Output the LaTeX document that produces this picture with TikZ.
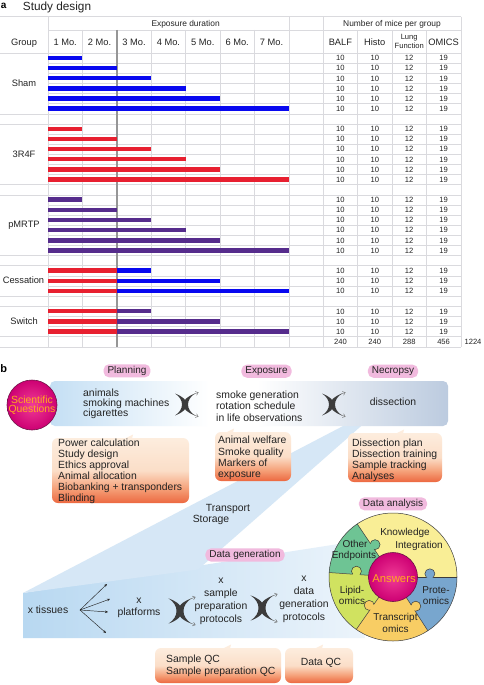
\documentclass[tikz,border=0pt]{standalone}
\usepackage{fontspec}
\setmainfont{Liberation Sans}
\usetikzlibrary{arrows.meta}
\definecolor{gridc}{RGB}{218,218,222}
\definecolor{twoc}{RGB}{150,150,150}
\definecolor{barblue}{RGB}{8,8,240}
\definecolor{barred}{RGB}{232,32,48}
\definecolor{barpurple}{RGB}{86,44,140}
\definecolor{txt}{RGB}{35,35,35}
\definecolor{pill}{RGB}{241,186,222}
\definecolor{bandL}{RGB}{196,223,244}
\definecolor{bandR}{RGB}{188,203,223}
\definecolor{peachT}{RGB}{253,237,222}
\definecolor{peach}{RGB}{251,222,200}
\definecolor{oM}{RGB}{245,160,120}
\definecolor{oB}{RGB}{236,104,64}
\definecolor{lowL}{RGB}{184,216,241}
\definecolor{lowR}{RGB}{236,244,251}
\definecolor{diagc}{RGB}{214,231,246}
\definecolor{magA}{RGB}{240,60,150}
\definecolor{magB}{RGB}{205,0,115}
\definecolor{magD}{RGB}{110,20,70}
\definecolor{ansc}{RGB}{255,170,30}
\definecolor{kic}{RGB}{249,238,150}
\definecolor{oec}{RGB}{110,196,148}
\definecolor{lic}{RGB}{208,226,96}
\definecolor{trc}{RGB}{248,205,100}
\definecolor{prc}{RGB}{120,166,206}
\definecolor{crossc}{RGB}{60,60,60}
\definecolor{crossl}{RGB}{110,110,110}
\definecolor{ringc}{RGB}{60,60,60}
\pgfdeclarehorizontalshading{upband}{100bp}{color(0bp)=(bandL); color(25bp)=(bandL); color(45bp)=(white); color(51bp)=(white); color(75bp)=(bandR); color(100bp)=(bandR)}
\pgfdeclareverticalshading{orangebox}{100bp}{color(0bp)=(oB); color(25bp)=(oB); color(36bp)=(oM); color(50bp)=(peach); color(75bp)=(peachT); color(100bp)=(peachT)}
\tikzset{xcross/.pic={
  \fill[crossc] (-10,-11) .. controls (6,-5) and (6,5) .. (-10,11) .. controls (-0.7,5) and (-0.7,-5) .. cycle;
  \fill[crossc] (10,-11) .. controls (-6,-5) and (-6,5) .. (10,11) .. controls (0.7,5) and (0.7,-5) .. cycle;
  \draw[crossl, line width=0.4pt, -{Straight Barb[length=2.5pt,width=4pt]}] (9,-10.4) -- (13.5,-12.2);
  \draw[crossl, line width=0.4pt, -{Straight Barb[length=2.5pt,width=4pt]}] (9,10.4) -- (13.5,12.2);
}}
\begin{document}
\begin{tikzpicture}[x=1pt,y=-1pt,
  gridl/.style={draw=gridc, line width=0.5pt},
  twol/.style={draw=twoc, line width=1.4pt},
  tabtxt/.style={font=\fontsize{9.3}{10}\selectfont, text=txt, inner sep=0pt, text height=6.7pt, text depth=0pt},
  spantxt/.style={font=\fontsize{8.4}{9}\selectfont, text=txt, inner sep=0pt, text height=6pt, text depth=0pt},
  numtxt/.style={font=\fontsize{7.6}{8}\selectfont, text=txt, inner sep=0pt, text height=5.4pt, text depth=0pt},
  lungtxt/.style={font=\fontsize{7.6}{8.8}\selectfont, text=txt, inner sep=0pt, align=center},
  btxt/.style={font=\fontsize{10.4}{11}\selectfont, text=txt, inner sep=0pt, align=left},
  ctxt/.style={font=\fontsize{10.4}{13}\selectfont, text=txt, inner sep=0pt, align=center},
  pillst/.style={fill=pill, rounded corners=5.5pt, inner xsep=4pt, inner ysep=2pt, font=\fontsize{10}{11}\selectfont, text=txt, text height=7.3pt, text depth=1.8pt},
  oboxst/.style={shade, shading=orangebox, rounded corners=6pt},
  ringline/.style={draw=ringc, line width=0.5pt},
  ringtxt/.style={font=\fontsize{10}{11}\selectfont, text=txt, inner sep=0pt, align=center},
  fanarr/.style={draw=txt, line width=0.45pt, -{Stealth[length=3pt,width=2.6pt]}},
  magball/.style={circle, inner sep=0pt, minimum size=50pt, shade, inner color=magA, outer color=magB, draw=magD, line width=0.6pt}
]
\useasboundingbox (0,0) rectangle (484,685);
\fill[white] (0,0) rectangle (484,685);
\def\cw{34.4}
\def\rh{10.13}
% ---------- panel a ----------
\node[font=\bfseries\fontsize{10}{12}\selectfont, anchor=base west, inner sep=0pt] (lbla) at (0.6,8.6) {a};
\node[font=\fontsize{11.8}{13}\selectfont, anchor=base west, inner sep=0pt, text=txt] (title) at (22.7,10.2) {Study design};
% grid
\foreach \r in {0,...,29} \draw[gridl] (48,{53+\r*\rh}) -- (460.8,{53+\r*\rh});
\draw[gridl] (0,16.7) -- (460.8,16.7);
\draw[gridl] (48,30) -- (460.8,30);
\draw[gridl] (0,53) -- (48,53);
\foreach \r in {6,7,13,14,20,21,24,25,28,29} \draw[gridl] (0,{53+\r*\rh}) -- (48,{53+\r*\rh});
\foreach \k in {0,7,8,12} \draw[gridl] ({48+\k*\cw},16.7) -- ({48+\k*\cw},{53+29*\rh});
\foreach \k in {1,3,4,5,6,9,10,11} \draw[gridl] ({48+\k*\cw},30) -- ({48+\k*\cw},{53+29*\rh});
\draw[twol] ({48+2*\cw},30) -- ({48+2*\cw},{53+29*\rh});
% bars
\foreach \r/\m in {0/1,1/2,2/3,3/4,4/5,5/7}
  \fill[barblue] (48,{53+(\r+0.5)*\rh-2.4}) rectangle ({48+\m*\cw},{53+(\r+0.5)*\rh+2.1});
\foreach \r/\m in {7/1,8/2,9/3,10/4,11/5,12/7}
  \fill[barred] (48,{53+(\r+0.5)*\rh-2.4}) rectangle ({48+\m*\cw},{53+(\r+0.5)*\rh+2.1});
\foreach \r/\m in {14/1,15/2,16/3,17/4,18/5,19/7}
  \fill[barpurple] (48,{53+(\r+0.5)*\rh-2.4}) rectangle ({48+\m*\cw},{53+(\r+0.5)*\rh+2.1});
\foreach \r/\m in {21/3,22/5,23/7}{
  \fill[barred] (48,{53+(\r+0.5)*\rh-2.4}) rectangle ({48+2*\cw},{53+(\r+0.5)*\rh+2.1});
  \fill[barblue] ({48+2*\cw},{53+(\r+0.5)*\rh-2.4}) rectangle ({48+\m*\cw},{53+(\r+0.5)*\rh+2.1});
}
\foreach \r/\m in {25/3,26/5,27/7}{
  \fill[barred] (48,{53+(\r+0.5)*\rh-2.4}) rectangle ({48+2*\cw},{53+(\r+0.5)*\rh+2.1});
  \fill[barpurple] ({48+2*\cw},{53+(\r+0.5)*\rh-2.4}) rectangle ({48+\m*\cw},{53+(\r+0.5)*\rh+2.1});
}
% headers
\node[spantxt] (hexp) at ({48+4*\cw},23.4) {Exposure duration};
\node[spantxt] (hmice) at ({48+10*\cw},23.4) {Number of mice per group};
\node[tabtxt] (hgroup) at (24,42.3) {Group};
\foreach \k in {1,...,7} \node[tabtxt] (hm\k) at ({48+(\k-0.5)*\cw},42.3) {\k{} Mo.};
\node[tabtxt] (hbalf) at ({48+8.5*\cw},42.3) {BALF};
\node[tabtxt] (hhisto) at ({48+9.5*\cw},42.3) {Histo};
\node[lungtxt] (hlung) at ({48+10.5*\cw},41.2) {Lung\\Function};
\node[tabtxt] (homics) at ({48+11.5*\cw},42.3) {OMICS};
% group labels
\node[tabtxt] (gsham) at (24,{53+3*\rh-0.6}) {Sham};
\node[tabtxt] (g3r4f) at (24,{53+10*\rh-0.6}) {3R4F};
\node[tabtxt] (gpm) at (24,{53+17*\rh-0.6}) {pMRTP};
\node[tabtxt] (gcess) at (23.5,{53+22.5*\rh-0.6}) {Cessation};
\node[tabtxt] (gsw) at (24,{53+26.5*\rh-0.6}) {Switch};
% numbers
\foreach \r in {0,1,2,3,4,5,7,8,9,10,11,12,14,15,16,17,18,19,21,22,23,25,26,27}{
  \foreach \k/\v in {8/10,9/10,10/12,11/19}
    \node[numtxt] (n\r-\k) at ({48+(\k+0.5)*\cw},{53+(\r+0.5)*\rh}) {\v};
}
\foreach \k/\v in {8/240,9/240,10/288,11/456}
  \node[numtxt] (tot\k) at ({48+(\k+0.5)*\cw},{53+28.5*\rh}) {\v};
\node[numtxt] (totall) at (473,{53+28.5*\rh}) {1224};
% ---------- panel b ----------
\node[font=\bfseries\fontsize{11}{12}\selectfont, anchor=base west, inner sep=0pt] (lblb) at (0.3,372) {b};
% bands
\shade[left color=lowL, right color=lowR] (23,593) -- (345,543) -- (365,638) -- (23,638) -- cycle;
\fill[diagc] (354.6,420) -- (368,420) -- (198,569.5) -- (23,593) -- cycle;
\shade[shading=upband, rounded corners=5pt] (50,381) rectangle (448,426);
% pills
\node[pillst] (plan) at (127,370.8) {Planning};
\node[pillst] (expo) at (266.5,371.2) {Exposure};
\node[pillst] (necr) at (393,371.2) {Necropsy};
\node[pillst] (dgenp) at (245,555) {Data generation};
\node[pillst] (danp) at (393,503.8) {Data analysis};
% scientific questions
\node[magball] (sq) at (32,405) {};
\node[font=\fontsize{10.4}{9.2}\selectfont, text=ansc, align=center, inner sep=0pt] (sqt) at (32,405.5) {Scientific\\Questions};
% upper band texts
\node[btxt, font=\fontsize{10.4}{10}\selectfont, anchor=west] (inputs) at (83,404.3) {animals\\smoking machines\\cigarettes};
\node[btxt, font=\fontsize{10.4}{11.6}\selectfont, anchor=west] (smoke) at (216,406) {smoke generation\\rotation schedule\\in life observations};
\node[btxt] (diss) at (393,402) {dissection};
\pic at (185,404.5) {xcross};
\pic at (332,404.5) {xcross};
% orange boxes
\shade[oboxst] (52,438) rectangle (189,503);
\fill[peachT] (125,438.6) -- (132,438.6) -- (133,434.5) -- cycle;
\shade[oboxst] (215,432) rectangle (291,481);
\fill[peachT] (226,432.6) -- (233,432.6) -- (234,428.5) -- cycle;
\shade[oboxst] (348,433) rectangle (442,482);
\fill[peachT] (396,433.6) -- (403,433.6) -- (404,429.5) -- cycle;
\shade[oboxst] (155,648) rectangle (281,683);
\fill[peachT] (223,648.6) -- (230,648.6) -- (231,644.5) -- cycle;
\shade[oboxst] (285,648) rectangle (353,683);
\fill[peachT] (315,648.6) -- (322,648.6) -- (323,644.5) -- cycle;
\node[btxt, anchor=west] (box1t) at (58,471) {Power calculation\\Study design\\Ethics approval\\Animal allocation\\Biobanking + transponders\\Blinding};
\node[btxt, font=\fontsize{10.4}{11.2}\selectfont, anchor=west] (box2t) at (218,458) {Animal welfare\\Smoke quality\\Markers of\\exposure};
\node[btxt, anchor=west] (box3t) at (352,460) {Dissection plan\\Dissection training\\Sample tracking\\Analyses};
\node[btxt, font=\fontsize{10.4}{11.7}\selectfont, anchor=west] (box4t) at (166,665.5) {Sample QC\\Sample preparation QC};
\node[btxt] (box5t) at (321,663) {Data QC};
% transport
\node[btxt] (trans) at (228,509) {Transport};
\node[btxt] (stor) at (211,519.8) {Storage};
% lower band
\node[btxt] (tis) at (48,610) {x tissues};
\coordinate (fan) at (80,610);
\coordinate (f1) at (107,584);
\coordinate (f2) at (110,599);
\coordinate (f3) at (108,612);
\coordinate (f4) at (106,633);
\foreach \f in {f1,f2,f3,f4} \draw[fanarr] (fan) -- (\f);
\node[ctxt, font=\fontsize{10.4}{12.3}\selectfont] (plat) at (139,607.5) {x\\platforms};
\pic[scale=1.15] at (180,611) {xcross};
\node[ctxt] (samp) at (221,601) {x\\sample\\preparation\\protocols};
\pic[scale=1.15] at (262,608) {xcross};
\node[ctxt] (dgen) at (304,599) {x\\data\\generation\\protocols};
% ring
\begin{scope}[shift={(393,577)}, yscale=-1]
  \fill[kic] (0,0) -- (0:64) arc[start angle=0, end angle=124, radius=64] -- cycle;
  \fill[oec] (0,0) -- (124:64) arc[start angle=124, end angle=176, radius=64] -- cycle;
  \fill[lic] (0,0) -- (176:64) arc[start angle=176, end angle=235, radius=64] -- cycle;
  \fill[trc] (0,0) -- (235:64) arc[start angle=235, end angle=303, radius=64] -- cycle;
  \fill[prc] (0,0) -- (303:64) arc[start angle=303, end angle=360, radius=64] -- cycle;
  \foreach \a in {0,124,176,235,303} \draw[ringline] (\a:24) -- (\a:64);
  \foreach \ang/\col/\s/\e in {119/oec/0/124, 171/lic/124/176, 230/trc/176/235, 308/trc/303/360, 5/prc/0/124}{
    \fill[\col] (\ang:37) circle (5);
    \begin{scope}
      \clip (0,0) -- (\s:70) arc[start angle=\s, end angle=\e, radius=70] -- cycle;
      \draw[ringline] (\ang:37) circle (5);
    \end{scope}
  }
  \draw[ringline] (0,0) circle (64);
  \shade[inner color=magA, outer color=magB] (0,0) circle (24.5);
  \draw[magD, line width=0.6pt] (0,0) circle (24.5);
\end{scope}
\node[ringtxt] (ki1) at (405,533) {Knowledge};
\node[ringtxt] (ki2) at (419,546) {Integration};
\node[ringtxt] (oe1) at (355,544) {Other};
\node[ringtxt] (oe2) at (354,555.5) {Endpoints};
\node[font=\fontsize{11.3}{12}\selectfont, text=ansc, inner sep=0pt] (ans) at (394,579) {Answers};
\node[ringtxt] (li) at (352,595.5) {Lipid-\\omics};
\node[ringtxt] (pr) at (436,595.5) {Prote-\\omics};
\node[ringtxt, font=\fontsize{10}{12.5}\selectfont] (tr) at (395.5,623) {Transcript\\omics};
\end{tikzpicture}
\end{document}
